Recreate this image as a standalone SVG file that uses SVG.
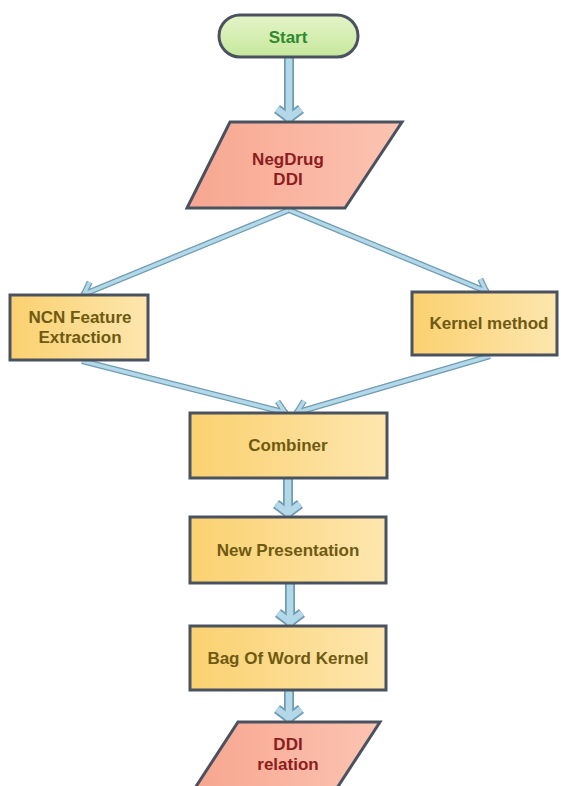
<svg xmlns="http://www.w3.org/2000/svg" width="561" height="786" viewBox="0 0 561 786">
<style>
  .box{stroke:#4a5260;stroke-width:3;}
  .proc{fill:url(#gY);}
  .io{fill:url(#gR);}
  .term{fill:url(#gG);}
  text{font-family:"Liberation Sans",Arial,sans-serif;font-weight:bold;font-size:17px;text-anchor:middle;dominant-baseline:central;}
  .tY{fill:#6e5a12;}
  .tR{fill:#8e1c1c;}
  .tG{fill:#2e8a2e;}
  .vo{stroke:#6f9cb3;stroke-width:10;fill:none;marker-end:url(#mVo);}
  .vi{stroke:#b3d8e8;stroke-width:6.5;fill:none;marker-end:url(#mVi);}
  .do{stroke:#6f9cb3;stroke-width:6;fill:none;marker-end:url(#mDo);}
  .di{stroke:#b3d8e8;stroke-width:3.5;fill:none;marker-end:url(#mDi);}
</style>
<defs>
  <linearGradient id="gY" x1="0" y1="0" x2="1" y2="0">
    <stop offset="0" stop-color="#fbd170"/>
    <stop offset="1" stop-color="#fde6ae"/>
  </linearGradient>
  <linearGradient id="gR" x1="0" y1="0" x2="1" y2="0">
    <stop offset="0" stop-color="#f7a690"/>
    <stop offset="1" stop-color="#fcc4b2"/>
  </linearGradient>
  <linearGradient id="gG" x1="0" y1="0" x2="0" y2="1">
    <stop offset="0" stop-color="#e4f4c8"/>
    <stop offset="1" stop-color="#c6e79c"/>
  </linearGradient>
  <marker id="mVo" markerUnits="userSpaceOnUse" markerWidth="1" markerHeight="1" refX="0" refY="0" orient="auto" overflow="visible">
    <path d="M-12,-12 L-3,0 L-12,12" fill="none" stroke="#6f9cb3" stroke-width="10" stroke-linejoin="miter"/>
  </marker>
  <marker id="mVi" markerUnits="userSpaceOnUse" markerWidth="1" markerHeight="1" refX="0" refY="0" orient="auto" overflow="visible">
    <path d="M-12,-12 L-3,0 L-12,12" fill="none" stroke="#b3d8e8" stroke-width="6.5" stroke-linejoin="miter"/>
  </marker>
  <marker id="mDo" markerUnits="userSpaceOnUse" markerWidth="1" markerHeight="1" refX="0" refY="0" orient="auto" overflow="visible">
    <path d="M-12,-9 L-2,0 L-12,9" fill="none" stroke="#6f9cb3" stroke-width="6" stroke-linejoin="miter"/>
  </marker>
  <marker id="mDi" markerUnits="userSpaceOnUse" markerWidth="1" markerHeight="1" refX="0" refY="0" orient="auto" overflow="visible">
    <path d="M-12,-9 L-2,0 L-12,9" fill="none" stroke="#b3d8e8" stroke-width="3.5" stroke-linejoin="miter"/>
  </marker>
</defs>
<rect width="561" height="786" fill="#ffffff"/>
<g id="connectors">
  <path class="vo" d="M289,58 L289,121"/><path class="vi" d="M289,58 L289,121"/>
  <path class="do" d="M289,210 L82,295"/><path class="di" d="M289,210 L82,295"/>
  <path class="do" d="M289,210 L488,292"/><path class="di" d="M289,210 L488,292"/>
  <path class="do" d="M82,361 L287,413"/><path class="di" d="M82,361 L287,413"/>
  <path class="do" d="M490,356 L295,413"/><path class="di" d="M490,356 L295,413"/>
  <path class="vo" d="M288,479 L288,516"/><path class="vi" d="M288,479 L288,516"/>
  <path class="vo" d="M290,584 L290,625"/><path class="vi" d="M290,584 L290,625"/>
  <path class="vo" d="M289,691 L289,721"/><path class="vi" d="M289,691 L289,721"/>
</g>
<g id="start">
  <rect class="box term" x="219" y="15" width="139" height="42" rx="21"/>
  <text class="tG" x="288" y="37">Start</text>
</g>
<g id="negdrug">
  <polygon class="box io" points="230,122 402,122 345,208 187,208"/>
  <text class="tR" x="288" y="159.5">NegDrug</text>
  <text class="tR" x="288" y="179">DDI</text>
</g>
<g id="ncn">
  <rect class="box proc" x="10" y="295" width="138" height="65"/>
  <text class="tY" x="80" y="317.5">NCN Feature</text>
  <text class="tY" x="80" y="337">Extraction</text>
</g>
<g id="kernel">
  <rect class="box proc" x="412" y="292" width="145" height="63"/>
  <text class="tY" x="489" y="323">Kernel method</text>
</g>
<g id="combiner">
  <rect class="box proc" x="190" y="413" width="197" height="65"/>
  <text class="tY" x="288" y="445">Combiner</text>
</g>
<g id="newpres">
  <rect class="box proc" x="190" y="517" width="196" height="66"/>
  <text class="tY" x="288" y="550">New Presentation</text>
</g>
<g id="bag">
  <rect class="box proc" x="190" y="626" width="196" height="64"/>
  <text class="tY" x="288" y="658">Bag Of Word Kernel</text>
</g>
<g id="ddirel">
  <polygon class="box io" points="238,722 380,722 337,788 195,788"/>
  <text class="tR" x="288" y="744.5">DDI</text>
  <text class="tR" x="288" y="764">relation</text>
</g>
</svg>
